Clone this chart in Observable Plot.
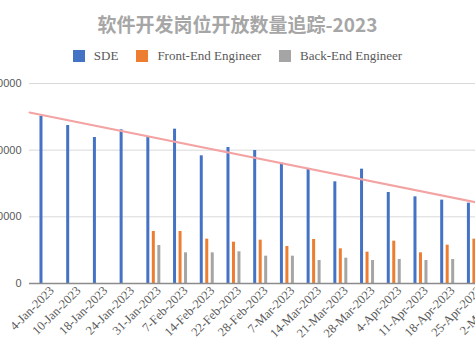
<!DOCTYPE html>
<html><head><meta charset="utf-8">
<script src="https://cdn.jsdelivr.net/npm/d3@7"></script>
<script src="https://cdn.jsdelivr.net/npm/@observablehq/plot@0.6"></script>
<style>
body{margin:0;background:#fff}
#wrap{position:relative;width:475px;height:356px;overflow:hidden;background:#fff}
#title{position:absolute;top:12px;left:0;width:475px;text-align:center;font:bold 19px/24px "Noto Sans CJK SC",sans-serif;color:#a6a6a6;z-index:2}
#legend{position:absolute;top:49px;left:0;width:475px;display:flex;justify-content:center;align-items:center;font:13px/14px "Liberation Serif",serif;color:#595959;z-index:2}
#legend .item{display:flex;align-items:center;margin:0 9px}
#legend .sw{width:12px;height:12px;margin-right:9px}
#chart{position:absolute;left:-30px;top:0;width:560px;height:356px}
#chart svg{max-width:none !important;width:560px;height:356px}
</style></head>
<body>
<div id="wrap">
  <div id="chart"></div>
  <div id="title">软件开发岗位开放数量追踪-2023</div>
  <div id="legend"></div>
</div>
<script>
const dates = ["4-Jan-2023","10-Jan-2023","18-Jan-2023","24-Jan-2023","31-Jan-2023","7-Feb-2023","14-Feb-2023","22-Feb-2023","28-Feb-2023","7-Mar-2023","14-Mar-2023","21-Mar-2023","28-Mar-2023","4-Apr-2023","11-Apr-2023","18-Apr-2023","25-Apr-2023","2-May-2023"];
const sde      = [25100,23700,21900,23050,21900,23150,19150,20400,19950,18050,17100,15250,17150,13650,13000,12500,12050,11800];
const frontEnd = [null,null,null,null,7800,7800,6650,6200,6500,5550,6600,5200,4700,6350,4600,5750,6650,5600];
const backEnd  = [null,null,null,null,5700,4600,4600,4750,4100,4100,3450,3800,3450,3600,3450,3600,3400,3500];
const seriesNames = ["SDE","Front-End Engineer","Back-End Engineer"];
const seriesColors = ["#4472C4","#ED7D31","#A5A5A5"];
const yTicks = [0,10000,20000,30000];

// legend
const leg = document.getElementById("legend");
seriesNames.forEach((n,k)=>{
  const it=document.createElement("div");it.className="item";
  it.innerHTML=`<div class="sw" style="background:${seriesColors[k]}"></div><span>${n}</span>`;
  leg.appendChild(it);
});

const step = 26.75;            // px per category
const off = 5.5/step, bw = 3/step;
const rows = [];
[sde,frontEnd,backEnd].forEach((arr,k)=>{
  arr.forEach((v,i)=>{ if(v!=null) rows.push({i, k, series:seriesNames[k], value:v}); });
});

// linear trendline on SDE
const n = sde.length;
const mx = d3.mean(d3.range(n)), my = d3.mean(sde);
const slope = d3.sum(d3.range(n), i => (i-mx)*(sde[i]-my)) / d3.sum(d3.range(n), i => (i-mx)**2);
const icpt = my - slope*mx;
const xLo = -0.654, xHi = 18.1;
const trend = [xLo, xHi].map(x => ({x, y: icpt + slope*x}));

const plot = Plot.plot({
  width: 560, height: 356,
  marginLeft: 59, marginRight: 0, marginTop: 83, marginBottom: 73,
  x: {type:"linear", domain:[xLo, xHi], axis:null, label:null},
  y: {domain:[0,30000], axis:null, label:null},
  color: {domain: seriesNames, range: seriesColors},
  style: {background:"transparent", overflow:"visible"},
  marks: [
    Plot.ruleY(yTicks.slice(1), {stroke:"#d9d9d9", strokeWidth:1}),
    Plot.rectY(rows, {
      x1: d => d.i + (d.k-1)*off - bw/2,
      x2: d => d.i + (d.k-1)*off + bw/2,
      y: "value", fill: "series"
    }),
    Plot.ruleY([0], {stroke:"#8c8c8c", strokeWidth:1.5}),
    Plot.line(trend, {x:"x", y:"y", stroke:"#f4a3a3", strokeWidth:2}),
    Plot.axisY({ticks: yTicks, tickSize:0, tickPadding:8, tickFormat: d => String(d), label:null,
      fontSize: 11, fontFamily:"Liberation Sans, Arial, sans-serif", fill:"#595959"}),
    Plot.axisX({ticks: d3.range(dates.length), tickSize:0, tickPadding:5, tickRotate:-45, label:null,
      tickFormat: i => dates[i], fontSize: 12.5, fontFamily:"Liberation Serif, serif", fill:"#595959", dx: 5})
  ]
});
document.getElementById("chart").appendChild(plot);
</script>
</body></html>
